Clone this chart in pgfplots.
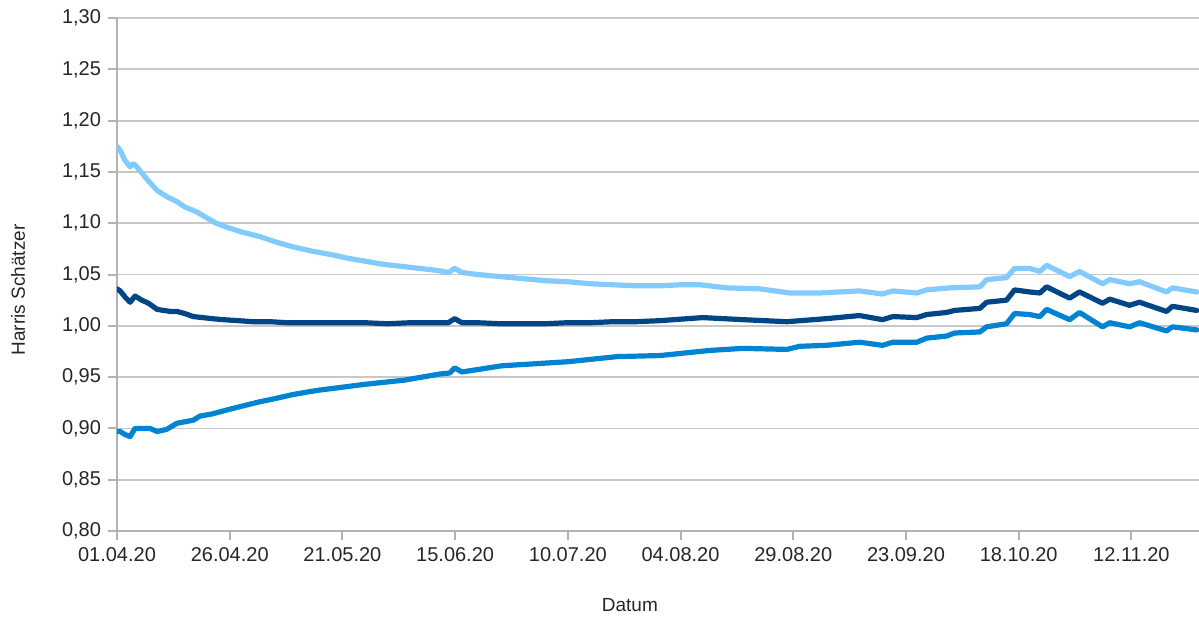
\documentclass[border=0pt]{standalone}
\usepackage{fontspec}
\setmainfont{Liberation Sans}
\usepackage{pgfplots}
\usepackage{pgfplotstable}
\pgfplotsset{compat=1.18}

\definecolor{upperser}{HTML}{83CAFF}
\definecolor{estser}{HTML}{004586}
\definecolor{lowerser}{HTML}{0084D1}
\definecolor{gridgray}{HTML}{C8C8C8}
\definecolor{axisgray}{HTML}{B3B3B3}

% day index (0 = 01.04.20) and Harris estimate
\pgfplotstableread{
day val
0 1.175
0.7 1.171
1.8 1.161
2.9 1.155
3.5 1.158
4.0 1.157
5.5 1.149
7 1.141
8.9 1.132
11 1.126
13.3 1.121
15 1.116
17.7 1.111
20 1.105
22 1.100
24.4 1.096
28 1.091
31.7 1.087
35 1.082
39 1.077
43 1.073
48 1.069
51 1.066
55 1.063
59 1.060
63 1.058
67 1.056
71 1.054
73.5 1.052
74.9 1.056
76.5 1.052
80 1.050
84.9 1.048
90 1.046
95 1.044
99.8 1.043
105 1.041
110 1.040
115 1.039
120.4 1.039
125 1.040
129.3 1.040
135.3 1.037
142.6 1.036
149.3 1.032
155.9 1.032
164.7 1.034
169.8 1.031
172.1 1.034
177.4 1.032
179.6 1.035
184.7 1.037
191.4 1.038
192.9 1.045
197.3 1.047
199.1 1.056
202.4 1.056
204.7 1.053
206.2 1.059
211.3 1.048
213.5 1.053
218.6 1.041
220.2 1.045
224.6 1.041
226.8 1.043
232.8 1.033
234.1 1.037
239.5 1.033
}\tabupper

\pgfplotstableread{
day val
0 1.036
0.7 1.034
1.8 1.028
2.9 1.023
4.0 1.029
5.5 1.025
7 1.022
8.9 1.016
11.8 1.014
13.3 1.014
15 1.012
16.9 1.009
19 1.008
21 1.007
23.5 1.006
27 1.005
30.2 1.004
34 1.004
37.7 1.003
42 1.003
47 1.003
51 1.003
55 1.003
60 1.002
65 1.003
70 1.003
73.5 1.003
74.9 1.007
76.5 1.003
80 1.003
85 1.002
90 1.002
95 1.002
99.8 1.003
105 1.003
110 1.004
115 1.004
120.4 1.005
129.9 1.008
138.8 1.006
148.6 1.004
157.4 1.007
164.7 1.010
169.8 1.006
172.1 1.009
177.4 1.008
179.6 1.011
184.0 1.013
185.8 1.015
191.4 1.017
192.9 1.023
197.3 1.025
199.1 1.035
202.4 1.033
204.7 1.032
206.2 1.038
211.3 1.027
213.5 1.033
218.6 1.022
220.2 1.026
224.6 1.020
226.8 1.023
232.8 1.014
234.1 1.019
239.5 1.015
}\tabest

\pgfplotstableread{
day val
0 0.897
0.7 0.897
1.8 0.894
2.9 0.892
4.0 0.900
5.5 0.900
7.3 0.900
8.9 0.897
11 0.899
13.3 0.905
16.9 0.908
18.4 0.912
21 0.914
24.4 0.918
28 0.922
31.7 0.926
35 0.929
39 0.933
44.3 0.937
49.7 0.940
55 0.943
63.7 0.947
71.6 0.953
73.8 0.954
74.9 0.959
76.5 0.955
85.3 0.961
100 0.965
111 0.970
120.4 0.971
131.5 0.976
138.8 0.978
148.6 0.977
151.4 0.980
157.4 0.981
164.7 0.984
169.8 0.981
172.1 0.984
177.4 0.984
179.6 0.988
184.0 0.990
185.8 0.993
191.4 0.994
192.9 0.999
197.3 1.002
199.1 1.012
202.4 1.011
204.7 1.009
206.2 1.016
211.3 1.006
213.5 1.013
218.6 0.999
220.2 1.003
224.6 0.999
226.8 1.003
232.8 0.995
234.1 0.999
239.5 0.996
}\tablower

\begin{document}
\begin{tikzpicture}
\useasboundingbox (0,0) rectangle (599.5pt,309pt);
\begin{axis}[
  at={(58.5pt,43.5pt)}, anchor=south west,
  scale only axis, width=541pt, height=256.5pt,
  xmin=0, xmax=240, ymin=0.8, ymax=1.3,
  axis x line=bottom, axis y line=left,
  axis line style={-, draw=axisgray, line width=1pt},
  ytick={0.8,0.85,0.9,0.95,1.0,1.05,1.1,1.15,1.2,1.25,1.3},
  xtick={0,25,50,75,100,125,150,175,200,225},
  xticklabels={01.04.20,26.04.20,21.05.20,15.06.20,10.07.20,04.08.20,29.08.20,23.09.20,18.10.20,12.11.20},
  ymajorgrids, grid style={gridgray, line width=0.9pt},
  tick align=outside, major tick length=4.5pt,
  tick style={axisgray, line width=1pt},
  minor tick num=0,
  yticklabel style={/pgf/number format/.cd, fixed, fixed zerofill, precision=2, use comma, assume math mode=true},
  tick label style={font=\fontsize{10}{12}\selectfont, text=black!85},
  label style={font=\fontsize{9.5}{11}\selectfont, text=black!85},
  xlabel={Datum}, ylabel={Harris Schätzer},
  xlabel style={at={(axis description cs:0.474,-0.144)}, anchor=center},
  ylabel style={at={(axis description cs:-0.0915,0.47)}, anchor=center},
  every axis plot/.append style={line width=2.6pt, line join=round, line cap=round, mark=none},
]
\addplot[upperser] table[x=day, y=val] {\tabupper};
\addplot[estser] table[x=day, y=val] {\tabest};
\addplot[lowerser] table[x=day, y=val] {\tablower};
\end{axis}
\end{tikzpicture}
\end{document}
